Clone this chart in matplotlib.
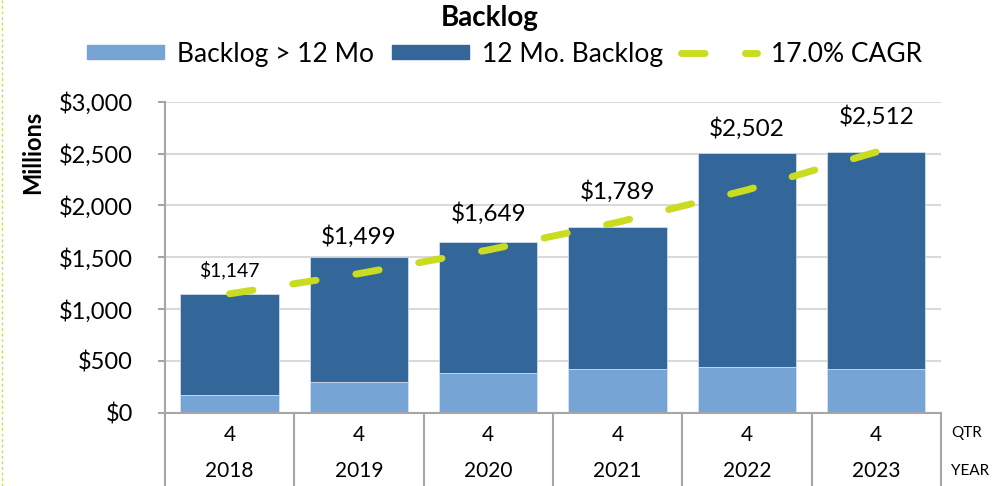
import numpy as np
import matplotlib.pyplot as plt
from matplotlib.lines import Line2D
from matplotlib.patches import Patch

plt.rcParams["font.family"] = ["Lato", "DejaVu Sans"]

# Данные
years = ["2018", "2019", "2020", "2021", "2022", "2023"]
quarters = ["4", "4", "4", "4", "4", "4"]
total = [1147, 1499, 1649, 1789, 2502, 2512]
long_backlog = [170, 300, 380, 420, 440, 420]   # Backlog > 12 Mo
cagr_line = [1147, 1342, 1570, 1837, 2149, 2515]  # 17.0% CAGR
short_backlog = [t - l for t, l in zip(total, long_backlog)]

light = "#76a5d5"
dark = "#336699"
lime = "#c9dc22"
grey = "#a6a6a6"

fig = plt.figure(figsize=(10.01, 4.86), dpi=100)
ax = fig.add_axes([0.1648, 0.1508, 0.7752, 0.6399])

x = np.arange(len(years))
ax.bar(x, long_backlog, width=0.76, color=light, edgecolor="#dbe6f2", linewidth=0.5,
       label="Backlog > 12 Mo", zorder=2)
ax.bar(x, short_backlog, bottom=long_backlog, width=0.76, color=dark,
       edgecolor="#dbe6f2", linewidth=0.5, label="12 Mo. Backlog", zorder=2)
ax.plot(x, cagr_line, color=lime, lw=5, dashes=(3.4, 5.8), dash_capstyle="round",
        label="17.0% CAGR", zorder=3)

# подписи над столбцами
offsets = [24, 21, 28, 36, 25, 36]
sizes = [14, 17.5, 17.5, 17.5, 17.5, 17.5]
for xi, t, off, fs in zip(x, total, offsets, sizes):
    ax.annotate(f"${t:,}", (xi, t), xytext=(0, off * 0.72), textcoords="offset points",
                ha="center", va="center", fontsize=fs)

ax.set_xlim(-0.5, len(years) - 0.5)
ax.set_ylim(0, 3000)
ax.set_yticks(range(0, 3001, 500))
ax.set_yticklabels([f"${v:,}" for v in range(0, 3001, 500)], fontsize=17)
ax.set_xticks([])
ax.grid(axis="y", color="#d9d9d9", lw=1.5, zorder=0)
ax.set_axisbelow(True)
for s in ["top", "right"]:
    ax.spines[s].set_visible(False)
for s in ["left", "bottom"]:
    ax.spines[s].set_color(grey)
    ax.spines[s].set_linewidth(1.5)
ax.tick_params(axis="y", color=grey, width=1.5, length=5, pad=18)

# двухуровневая ось X
trans = ax.get_xaxis_transform()
bottom = -73.3 / 311
for xs in np.arange(-0.5, len(years), 1.0):
    ax.add_line(Line2D([xs, xs], [0, bottom], transform=trans, color=grey, lw=1.5,
                       clip_on=False))
for xi, q, y in zip(x, quarters, years):
    ax.text(xi, -0.072, q, transform=trans, ha="center", va="center", fontsize=15)
    ax.text(xi, -0.186, y, transform=trans, ha="center", va="center", fontsize=15)
ax.text(len(years) - 0.5 + 0.08, -0.065, "QTR", transform=trans, ha="left",
        va="center", fontsize=11)
ax.text(len(years) - 0.5 + 0.08, -0.186, "YEAR", transform=trans, ha="left",
        va="center", fontsize=11)

fig.text(0.033, 1 - 152 / 486, "Millions", rotation=90, ha="center", va="center",
         fontsize=17, fontweight="bold")
fig.text(0.489, 1 - 18 / 486, "Backlog", ha="center", va="center", fontsize=20,
         fontweight="bold")

handles = [Patch(color=light), Patch(color=dark),
           Line2D([], [], color=lime, lw=5, dashes=(3.4, 5.8), dash_capstyle="round")]
fig.legend(handles, ["Backlog > 12 Mo", "12 Mo. Backlog", "17.0% CAGR"], ncol=3,
           loc="center", bbox_to_anchor=(0.504, 1 - 54 / 486), frameon=False,
           fontsize=19, handlelength=2.9, handleheight=0.4, handletextpad=0.5,
           columnspacing=0.68)

# пунктир слева
fig.add_artist(Line2D([0.002, 0.002], [0, 1], transform=fig.transFigure, color="#d4dc3c",
                      lw=1, dashes=(2, 2)))

fig.savefig("out.png", dpi=100)
